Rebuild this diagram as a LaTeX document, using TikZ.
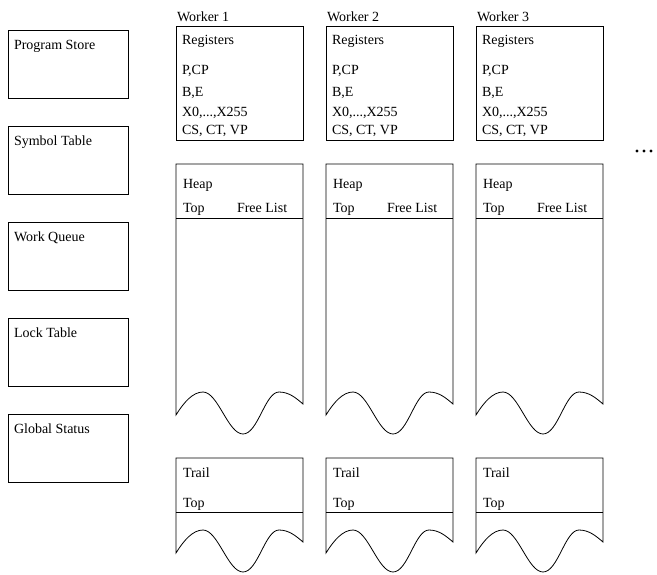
\documentclass[tikz,border=0pt]{standalone}
\usepackage{fontspec}
\setmainfont{Liberation Serif}
\newcommand\mywavebox[2]{%
  \draw (0,#1) -- (127,#1) -- (127,{#2+12})
    .. controls (120,{#2+6}) and (113,#2) .. (103,#2)
    .. controls (89,#2) and (82,{#2+42}) .. (67,{#2+42})
    .. controls (52,{#2+42}) and (42,#2) .. (27,#2)
    .. controls (17,#2) and (8,{#2+10}) .. (0,{#2+23}) -- cycle;
  \draw (0,{#1+54}) -- (127,{#1+54});
}
\begin{document}
\begin{tikzpicture}[x=1pt,y=-1pt,line width=0.8pt,
  lbl/.style={anchor=base west,inner sep=0pt,outer sep=0pt,font=\fontsize{14}{16}\selectfont},
  plainbox/.style={draw,line width=0.8pt,anchor=north west,inner sep=0pt,outer sep=0pt}]
\useasboundingbox (0,0) rectangle (657,574);
% global areas
\foreach \nm/\txt [count=\i from 0] in {prog/Program Store,sym/Symbol Table,wq/Work Queue,lock/Lock Table,glob/Global Status}{
  \node[plainbox,minimum width=120pt,minimum height=68pt] (\nm box) at (8,{30+96*\i}) {};
  \node[lbl] (\nm) at (14,{49.5+96*\i}) {\txt};
}
% workers
\foreach \c in {1,2,3}{
  \begin{scope}[shift={({176+150*(\c-1)},0)}]
    \node[lbl] (w\c) at (1,21) {Worker \c};
    \node[plainbox,minimum width=127pt,minimum height=114pt] (reg\c box) at (0,26) {};
    \node[lbl] (reg\c) at (6,44.5) {Registers};
    \node[lbl] (pcp\c) at (6,74.3) {P,CP};
    \node[lbl] (be\c) at (6,96) {B,E};
    \node[lbl] (x\c) at (6,116.6) {X0,...,X255};
    \node[lbl] (cs\c) at (6,134.3) {CS, CT, VP};
    % heap
    \mywavebox{164}{392}
    \node[lbl] (heap\c) at (7,188.6) {Heap};
    \node[lbl] (htop\c) at (7,212.6) {Top};
    \node[lbl] (free\c) at (61,212.6) {Free List};
    % trail
    \mywavebox{458}{530}
    \node[lbl] (trail\c) at (7,477.6) {Trail};
    \node[lbl] (ttop\c) at (7,507) {Top};
  \end{scope}
}
% more workers
\foreach \dx [count=\k] in {637,644,651}{
  \fill (\dx,151) circle[radius=1.6pt];
}
\end{tikzpicture}
\end{document}
